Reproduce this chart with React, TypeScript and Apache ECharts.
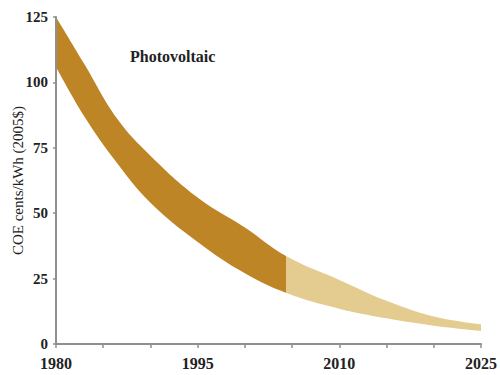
import React, { useEffect, useRef } from "react";
import * as echarts from "echarts";

const years = [1980, 1983, 1986.5, 1990, 1995, 2000, 2004.4, 2010, 2015, 2020, 2025];
const upperCOE = [125, 107, 86, 72, 56, 44.5, 33.5, 24.5, 16.5, 10.5, 7.5];
const lowerCOE = [106, 87, 69, 54, 39, 27, 19.5, 13.5, 9.8, 7, 5];
const splitYear = 2004.4;
const xLabelYears = [1980, 1995, 2010, 2025];
const chartTitle = "Photovoltaic";
const yAxisTitle = "COE cents/kWh (2005$)";

const DARK = "#BE8526";
const LIGHT = "#E4CC90";
const AXIS = "#8f8f8f";
const SERIF = "'Liberation Serif', 'DejaVu Serif', serif";

export default function App() {
  const ref = useRef<HTMLDivElement>(null);
  useEffect(() => {
    document.body.style.margin = "0";
    if (!ref.current) return;
    const chart = echarts.init(ref.current, null, { renderer: "svg" });
    const upperData = years.map((y, i) => [y, upperCOE[i]]);
    const lowerData = years.map((y, i) => [y, lowerCOE[i]]);
    const x0 = years[0];
    const x1 = years[years.length - 1];
    const f = (splitYear - x0) / (x1 - x0);
    const fill = {
      type: "linear",
      x: 0,
      y: 0,
      x2: 1,
      y2: 0,
      colorStops: [
        { offset: 0, color: DARK },
        { offset: f, color: DARK },
        { offset: f, color: LIGHT },
        { offset: 1, color: LIGHT },
      ],
    };
    chart.setOption({
      animation: false,
      backgroundColor: "#ffffff",
      title: {
        text: chartTitle,
        left: 125,
        top: 43,
        textStyle: { fontFamily: SERIF, fontSize: 16, fontWeight: "bold", color: "#222" },
      },
      grid: { left: 56, right: 19, top: 17, bottom: 31, containLabel: false, outerBoundsMode: "none" },
      xAxis: {
        type: "value",
        min: 1980,
        max: 2025,
        interval: 5,
        z: 10,
        splitLine: { show: false },
        axisLine: { lineStyle: { color: AXIS, width: 2 } },
        axisTick: { show: true, length: 4, lineStyle: { color: AXIS, width: 1.5 } },
        axisLabel: {
          margin: 11,
          fontFamily: SERIF,
          fontSize: 16,
          fontWeight: "bold",
          color: "#222",
          formatter: (v: number) => (xLabelYears.includes(v) ? String(v) : ""),
        },
      },
      yAxis: {
        type: "value",
        min: 0,
        max: 125,
        interval: 25,
        z: 10,
        name: yAxisTitle,
        nameLocation: "middle",
        nameGap: 31,
        nameMoveOverlap: false,
        nameRotate: 90,
        nameTextStyle: { fontFamily: SERIF, fontSize: 15, color: "#222" },
        splitLine: { show: false },
        axisLine: { show: true, lineStyle: { color: AXIS, width: 2 } },
        axisTick: { show: true, length: 3, lineStyle: { color: AXIS, width: 1.5 } },
        axisLabel: { margin: 8, fontFamily: SERIF, fontSize: 15, fontWeight: "bold", color: "#222" },
      },
      series: [
        {
          type: "line",
          data: upperData,
          smooth: 0.4,
          showSymbol: false,
          silent: true,
          z: 2,
          lineStyle: { width: 0, opacity: 0 },
          areaStyle: { opacity: 1, color: fill },
        },
        {
          type: "line",
          data: lowerData,
          smooth: 0.4,
          showSymbol: false,
          silent: true,
          z: 3,
          lineStyle: { width: 0, opacity: 0 },
          areaStyle: { opacity: 1, color: "#ffffff" },
        },
      ],
    });
    return () => chart.dispose();
  }, []);
  return <div ref={ref} style={{ width: 500, height: 375 }} />;
}
